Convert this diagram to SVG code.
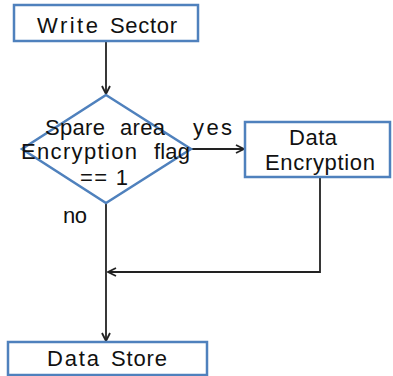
<svg xmlns="http://www.w3.org/2000/svg" width="393" height="376" viewBox="0 0 393 376">
  <style>
    .box { fill: #ffffff; stroke: #4f81bd; stroke-width: 2.5; }
    .lbl { font-family: "Liberation Sans", Arial, sans-serif; font-size: 22px; fill: #111111; }
    .wire { fill: none; stroke: #222222; stroke-width: 1.8; }
  </style>
  <defs>
    <marker id="arrow" viewBox="0 0 10 10" refX="9" refY="5" markerWidth="10" markerHeight="10" markerUnits="userSpaceOnUse" orient="auto">
      <path d="M1,1 L9,5 L1,9" fill="none" stroke="#222222" stroke-width="1.8"/>
    </marker>
  </defs>
  <rect width="393" height="376" fill="#ffffff"/>

  <g id="connectors">
    <line class="wire" x1="106" y1="41" x2="106" y2="94" marker-end="url(#arrow)"/>
    <line class="wire" x1="190" y1="149" x2="244" y2="149" marker-end="url(#arrow)"/>
    <line class="wire" x1="106" y1="203" x2="106" y2="341" marker-end="url(#arrow)"/>
    <polyline class="wire" points="320,177 320,272 108,272" marker-end="url(#arrow)"/>
  </g>

  <g id="write-sector">
    <rect class="box" x="14" y="5" width="184" height="36"/>
    <text class="lbl" y="33"><tspan x="37" textLength="61" lengthAdjust="spacing">Write</tspan><tspan x="110" textLength="67" lengthAdjust="spacing">Sector</tspan></text>
  </g>

  <g id="encryption-check">
    <polygon points="106,95 191,149 106,203 22,149" fill="none" stroke="#4f81bd" stroke-width="2.5"/>
    <text class="lbl" y="135"><tspan x="45" textLength="60" lengthAdjust="spacing">Spare</tspan><tspan x="120" textLength="45" lengthAdjust="spacing">area</tspan></text>
    <text class="lbl" y="159"><tspan x="21" textLength="116" lengthAdjust="spacing">Encryption</tspan><tspan x="154" textLength="36" lengthAdjust="spacing">flag</tspan></text>
    <text class="lbl" x="80" y="185" textLength="48" lengthAdjust="spacing">== 1</text>
  </g>

  <g id="branch-labels">
    <text class="lbl" x="193" y="135" textLength="39" lengthAdjust="spacing">yes</text>
    <text class="lbl" x="63" y="223" textLength="24" lengthAdjust="spacing">no</text>
  </g>

  <g id="data-encryption">
    <rect class="box" x="245" y="122" width="145" height="55"/>
    <text class="lbl" x="289" y="145" textLength="48" lengthAdjust="spacing">Data</text>
    <text class="lbl" x="265" y="170" textLength="110" lengthAdjust="spacing">Encryption</text>
  </g>

  <g id="data-store">
    <rect class="box" x="8" y="342" width="199" height="33"/>
    <text class="lbl" y="366"><tspan x="47" textLength="52" lengthAdjust="spacing">Data</tspan><tspan x="111" textLength="56" lengthAdjust="spacing">Store</tspan></text>
  </g>
</svg>
